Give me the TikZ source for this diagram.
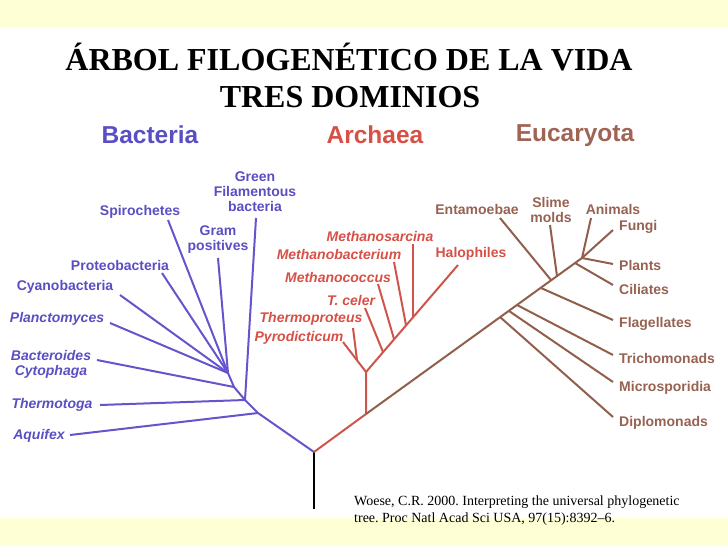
\documentclass[tikz,border=0pt]{standalone}
\usepackage{fontspec}
\setmainfont{Liberation Serif}
\newfontfamily\labfont{Liberation Sans}
\frenchspacing
\definecolor{ybg}{RGB}{255,255,214}
\definecolor{bline}{RGB}{100,85,205}
\definecolor{btext}{RGB}{90,78,195}
\definecolor{aline}{RGB}{205,85,75}
\definecolor{atext}{RGB}{215,80,70}
\definecolor{eline}{RGB}{145,95,75}
\definecolor{etext}{RGB}{150,98,82}
\definecolor{ehdr}{RGB}{160,100,85}
\tikzset{
  ttl/.style={font=\bfseries\fontsize{32}{38}\selectfont, inner sep=0pt, text=black},
  hdr/.style={font=\labfont\bfseries\fontsize{24.5}{27}\selectfont, inner sep=0pt},
  lbl/.style={font=\labfont\bfseries\fontsize{14}{15}\selectfont, inner sep=0pt, align=center},
  lbli/.style={font=\labfont\bfseries\itshape\fontsize{14}{15}\selectfont, inner sep=0pt, align=center},
  bl/.style={lbl, text=btext},
  bli/.style={lbli, text=btext},
  al/.style={lbl, text=atext},
  ali/.style={lbli, text=atext},
  el/.style={lbl, text=etext},
  bbr/.style={draw=bline, line width=2pt},
  abr/.style={draw=aline, line width=2pt},
  ebr/.style={draw=eline, line width=2pt},
  cite/.style={font=\fontsize{14}{17}\selectfont, inner sep=0pt, align=left}
}
\begin{document}
\begin{tikzpicture}[x=1pt,y=-1pt, line join=round]
\useasboundingbox (0,0) rectangle (728,546);
\fill[ybg] (0,0) rectangle (728,27);
\fill[ybg] (0,518) rectangle (728,546);

% titles
\node[ttl, anchor=base] (t1) at (349,70) {ÁRBOL FILOGENÉTICO DE LA VIDA};
\node[ttl, anchor=base] (t2) at (350,107) {TRES DOMINIOS};

% domain headers
\node[hdr, text=btext] (hB) at (150,135) {Bacteria};
\node[hdr, text=atext] (hA) at (375,135) {Archaea};
\node[hdr, text=ehdr] (hE) at (575,136) {Eucaryota};

% root
\coordinate (base) at (314,509);
\coordinate (root) at (314,452);
\draw[black, line width=2pt] (base) -- (root);

% ---------------- Bacteria ----------------
\coordinate (b0) at (258,413);
\coordinate (b1) at (245,400);
\coordinate (b2) at (234,387);
\coordinate (b3) at (228,373);
\draw[bbr] (root) -- (b0) -- (b1) -- (b2) -- (b3);

\node[bl] (green) at (255,192) {Green\\Filamentous\\bacteria};
\node[bl] (spiro) at (140,212) {Spirochetes};
\node[bl] (gram) at (218,240) {Gram\\positives};
\node[bl] (proteo) at (120,265) {Proteobacteria};
\node[bl] (cyano) at (65,287) {Cyanobacteria};
\node[bli] (planc) at (57,319) {Planctomyces};
\node[bli] (bacter) at (51,364) {Bacteroides\\Cytophaga};
\node[bli] (thermo) at (52,405) {Thermotoga};
\node[bli] (aquif) at (39,436) {Aquifex};

\coordinate (greenE) at (256,218);
\coordinate (spiroE) at (168,220);
\coordinate (gramE) at (218,258);
\coordinate (proteoE) at (162,273);
\coordinate (cyanoE) at (120,295);
\coordinate (plancE) at (110,323);
\coordinate (bacterE) at (97,360);
\coordinate (thermoE) at (100,405);
\coordinate (aquifE) at (70,435);

\draw[bbr] (b1) -- (greenE);
\draw[bbr] (b3) -- (spiroE);
\draw[bbr] (b3) -- (gramE);
\draw[bbr] (b3) -- (proteoE);
\draw[bbr] (b3) -- (cyanoE);
\draw[bbr] (b3) -- (plancE);
\draw[bbr] (b2) -- (bacterE);
\draw[bbr] (b1) -- (thermoE);
\draw[bbr] (b0) -- (aquifE);

% ---------------- Archaea ----------------
\coordinate (a0) at (366,414);
\coordinate (a1) at (366,372);
\coordinate (a2) at (357,360);
\coordinate (pyroE) at (343,342);
\coordinate (thprE) at (353,328);
\coordinate (haloE) at (458,265);
\coordinate (tcelB) at (383,352);
\coordinate (mcocB) at (394,339);
\coordinate (mbacB) at (406,325);
\coordinate (msarB) at (413,317);
\coordinate (tcelE) at (365,308);
\coordinate (mcocE) at (378,284);
\coordinate (mbacE) at (394,262);
\coordinate (msarE) at (413,244);
\draw[abr] (root) -- (a0) -- (a1);
\draw[abr] (a1) -- (pyroE);
\draw[abr] (a2) -- (thprE);
\draw[abr] (a1) -- (haloE);
\draw[abr] (tcelB) -- (tcelE);
\draw[abr] (mcocB) -- (mcocE);
\draw[abr] (mbacB) -- (mbacE);
\draw[abr] (msarB) -- (msarE);

\node[ali] (msar) at (380,236) {Methanosarcina};
\node[ali] (mbac) at (339,254) {Methanobacterium};
\node[ali] (mcoc) at (338,277) {Methanococcus};
\node[ali] (tcel) at (351,300) {T. celer};
\node[ali] (thpr) at (311,319) {Thermoproteus};
\node[ali] (pyro) at (299,338) {Pyrodicticum};
\node[al] (halo) at (471,254) {Halophiles};

% ---------------- Eucaryota ----------------
\coordinate (e5) at (582,258);
\coordinate (diplB) at (500,317);
\coordinate (micrB) at (509,311);
\coordinate (trchB) at (517,305);
\coordinate (flagB) at (541,288);
\coordinate (entaB) at (551,280);
\coordinate (slimB) at (557,276);
\coordinate (cilB) at (575,263);
\draw[ebr] (a0) -- (e5);

\coordinate (diplE) at (613,417);
\coordinate (micrE) at (613,382);
\coordinate (trchE) at (613,355);
\coordinate (flagE) at (613,320);
\coordinate (entaE) at (500,218);
\coordinate (slimE) at (550,225);
\coordinate (cilE) at (613,285);
\coordinate (animE) at (591,218);
\coordinate (fungE) at (613,230);
\coordinate (plntE) at (613,264);
\draw[ebr] (diplB) -- (diplE);
\draw[ebr] (micrB) -- (micrE);
\draw[ebr] (trchB) -- (trchE);
\draw[ebr] (flagB) -- (flagE);
\draw[ebr] (entaB) -- (entaE);
\draw[ebr] (slimB) -- (slimE);
\draw[ebr] (cilB) -- (cilE);
\draw[ebr] (e5) -- (animE);
\draw[ebr] (e5) -- (fungE);
\draw[ebr] (e5) -- (plntE);

\node[el] (enta) at (477,209) {Entamoebae};
\node[el] (slim) at (551,210) {Slime\\molds};
\node[el] (anim) at (613,209) {Animals};
\node[el, anchor=west] (fung) at (619,227) {Fungi};
\node[el, anchor=west] (plnt) at (619,265) {Plants};
\node[el, anchor=west] (cil) at (619,289) {Ciliates};
\node[el, anchor=west] (flag) at (619,324) {Flagellates};
\node[el, anchor=west] (trch) at (619,358) {Trichomonads};
\node[el, anchor=west] (micr) at (619,388) {Microsporidia};
\node[el, anchor=west] (dipl) at (619,423) {Diplomonads};

% citation
\node[cite, anchor=west] (cit) at (354,511) {Woese, C.R. 2000. Interpreting the universal phylogenetic\\tree. Proc Natl Acad Sci USA, 97(15):8392--6.};
\end{tikzpicture}
\end{document}
